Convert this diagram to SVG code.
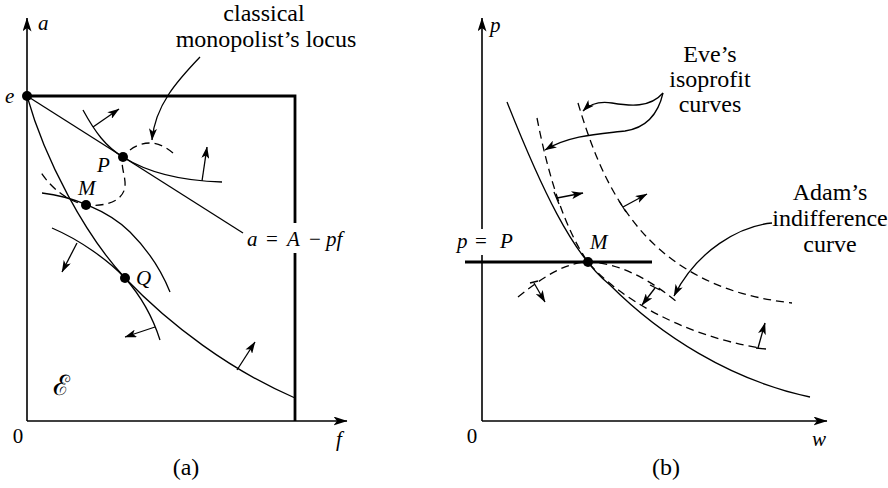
<svg xmlns="http://www.w3.org/2000/svg" width="888" height="488" viewBox="0 0 888 488" font-family="'Liberation Serif', 'Times New Roman', serif">
<defs>
<marker id="ah" viewBox="0 0 12 8" refX="11.5" refY="4" markerWidth="12" markerHeight="8" markerUnits="userSpaceOnUse" orient="auto">
<path d="M0,0 L12,4 L0,8 L3,4 Z" fill="#000"/>
</marker>
<marker id="ax" viewBox="0 0 14 9" refX="13.5" refY="4.5" markerWidth="14" markerHeight="9" markerUnits="userSpaceOnUse" orient="auto">
<path d="M0,0 L14,4.5 L0,9 L3.5,4.5 Z" fill="#000"/>
</marker>
</defs>
<style>
.lbl{font-size:24px}
.it{font-style:italic;font-size:21px}
.mth{font-size:21px}
.c{fill:none;stroke:#000;stroke-width:1.3}
.d{fill:none;stroke:#000;stroke-width:1.3;stroke-dasharray:8 5}
.axis{fill:none;stroke:#000;stroke-width:1.6}
.thick{fill:none;stroke:#000;stroke-width:2.8}
.arr{fill:none;stroke:#000;stroke-width:1.3;marker-end:url(#ah)}
.dot{fill:#000}
</style>

<g id="panel-a">
<g id="axes-a">
<path class="axis" d="M27,421 L27,18" marker-end="url(#ax)"/>
<path class="axis" d="M27,421 L347,421" marker-end="url(#ax)"/>
<text class="it" x="38" y="30">a</text>
<text class="it" x="336" y="446">f</text>
<text class="mth" x="18" y="443" text-anchor="middle">0</text>
<text class="lbl" x="186" y="475" text-anchor="middle" font-size="23">(a)</text>
</g>
<g id="box">
<path class="thick" d="M27,96 L295,96 L295,223"/>
<path class="thick" d="M295,253 L295,421"/>
</g>
<g id="connectors-a">
<path class="c" d="M27,96 L243,233"/>
<path class="c" d="M27,96 C45,160 85,235 125,278 C170,325 230,370 295,398"/>
<path class="c" d="M83,110 C95,132 106,147 123,157 C150,174 185,181 222,182"/>
<path class="c" d="M42,193 C70,196 108,210 130,232 C150,252 162,272 170,292"/>
<path class="c" d="M52,228 C80,240 108,260 125,278 C140,295 153,318 160,340"/>
<path class="d" d="M173,153 C166,147 158,143 150,143 C138,143 128,150 123,157 C120,166 126,176 125,187 C123,200 108,207 86,205 C70,202 52,190 40,171"/>
<path class="arr" d="M200,57 C178,80 155,105 152,140"/>
<path class="arr" d="M93,127 L119,109"/>
<path class="arr" d="M202,181 L207,147"/>
<path class="arr" d="M77,243 L62,272"/>
<path class="arr" d="M155,327 L125,337"/>
<path class="arr" d="M237,370 L255,342"/>
</g>
<g id="node-e"><circle class="dot" cx="27" cy="96" r="5"/><text class="it" x="5" y="103">e</text></g>
<g id="node-P"><circle class="dot" cx="123" cy="157" r="5"/><text class="it" x="97" y="172">P</text></g>
<g id="node-M"><circle class="dot" cx="86" cy="205" r="5"/><text class="it" x="78" y="195">M</text></g>
<g id="node-Q"><circle class="dot" cx="125" cy="278" r="5"/><text class="it" x="136" y="285">Q</text></g>
<g id="label-locus">
<text class="lbl" x="264" y="21" text-anchor="middle" font-size="23.5">classical</text>
<text class="lbl" x="266" y="47" text-anchor="middle" font-size="23.5">monopolist’s locus</text>
</g>
<g id="label-line">
<text class="mth" y="246"><tspan x="247" font-style="italic">a</tspan><tspan x="266">=</tspan><tspan x="287" font-style="italic">A</tspan><tspan x="309">−</tspan><tspan x="326" font-style="italic">pf</tspan></text>
</g>
<g id="label-E">
<text x="53" y="395" font-family="'DejaVu Serif', serif" font-size="28">ℰ</text>
</g>
</g>

<g id="panel-b">
<g id="axes-b">
<path class="axis" d="M482,421 L482,255"/>
<path class="axis" d="M482,229 L482,18" marker-end="url(#ax)"/>
<path class="axis" d="M482,421 L827,421" marker-end="url(#ax)"/>
<text class="it" x="490" y="32">p</text>
<text class="it" x="812" y="446">w</text>
<text class="mth" x="472" y="443" text-anchor="middle">0</text>
<text class="lbl" x="666" y="475" text-anchor="middle" font-size="23">(b)</text>
</g>
<g id="line-pP">
<path class="thick" d="M465,262 L652,262"/>
<text class="mth" y="248"><tspan x="457" font-style="italic">p</tspan><tspan x="475">=</tspan><tspan x="500" font-style="italic">P</tspan></text>
</g>
<g id="connectors-b">
<path class="c" d="M507,102 C540,185 572,255 610,285 C660,335 730,380 810,397"/>
<path class="d" d="M518,297 C545,275 568,262 588,262 C620,262 655,283 678,303"/>
<path class="d" d="M537,118 C548,175 565,230 588,262 C615,295 680,335 760,348"/>
<path class="d" d="M578,103 C595,160 620,225 680,265 C715,288 750,298 792,303"/>
<path class="c" d="M554,192 L559,204"/>
<path class="arr" d="M557,198 L583,193"/>
<path class="c" d="M619,201 L626,212"/>
<path class="arr" d="M623,207 L647,194"/>
<path class="c" d="M530,283 L538,281"/>
<path class="arr" d="M534,283 L545,302"/>
<path class="c" d="M650,285 L660,290"/>
<path class="arr" d="M655,288 L642,305"/>
<path class="c" d="M756,348 L766,349"/>
<path class="arr" d="M758,348 L765,323"/>
<path class="arr" d="M663,93 C650,108 630,106 612,103 C600,101 590,104 583,111"/>
<path class="arr" d="M663,93 C658,115 645,128 625,131 C600,134 570,135 545,150"/>
<path class="arr" d="M772,223 C740,226 697,250 674,296"/>
</g>
<g id="node-M2"><circle class="dot" cx="588" cy="262" r="5"/><text class="it" x="590" y="249">M</text></g>
<g id="label-eve">
<text class="lbl" x="710" y="62" text-anchor="middle">Eve’s</text>
<text class="lbl" x="710" y="87" text-anchor="middle">isoprofit</text>
<text class="lbl" x="710" y="112" text-anchor="middle">curves</text>
</g>
<g id="label-adam">
<text class="lbl" x="830" y="200" text-anchor="middle">Adam’s</text>
<text class="lbl" x="830" y="226" text-anchor="middle">indifference</text>
<text class="lbl" x="830" y="252" text-anchor="middle">curve</text>
</g>
</g>
</svg>
